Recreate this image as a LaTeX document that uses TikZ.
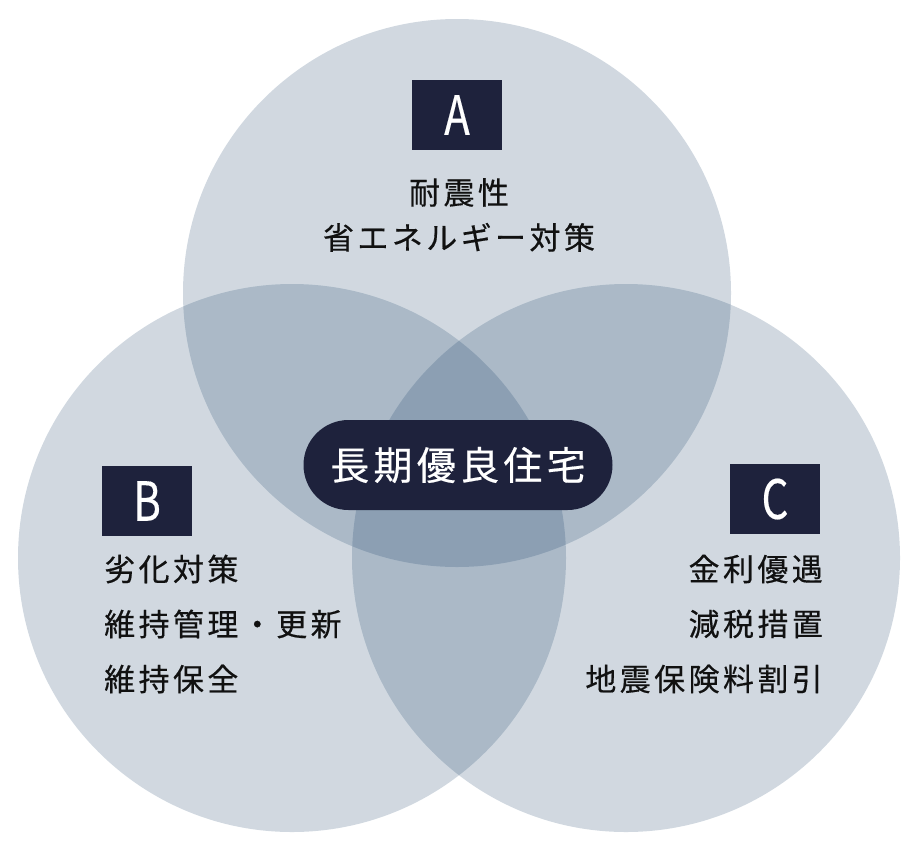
\documentclass[tikz,border=0pt]{standalone}
\usepackage{fontspec}
\usetikzlibrary{positioning}
\newfontfamily\jpwide[LetterSpace=11,FakeBold=0.4]{Noto Sans CJK JP}
\newfontfamily\letterfont[FakeStretch=0.78,FakeBold=0.3]{Noto Sans CJK JP}
\definecolor{vennblue}{RGB}{8,50,92}
\definecolor{navy}{RGB}{30,34,60}
\definecolor{ink}{RGB}{17,17,17}

\begin{document}
\begin{tikzpicture}[x=1pt,y=-1pt,
    venn/.style={circle, fill=vennblue, fill opacity=0.19, minimum size=548pt, inner sep=0pt},
    letterbox/.style={fill=navy, text=white, minimum width=90pt, minimum height=70pt, inner sep=0pt,
      font=\letterfont\fontsize{54}{54}\selectfont},
    item/.style={text=ink, inner sep=0pt, font=\jpwide\fontsize{31}{55}\selectfont},
    pill/.style={fill=navy, text=white, minimum width=309pt, minimum height=90pt, inner sep=0pt,
      rounded corners=45pt, font=\jpwide\fontsize{39}{39}\selectfont}]
    \useasboundingbox (0,0) rectangle (920,854);

    % three circles
    \node[venn] (circA) at (457,293) {};
    \node[venn] (circB) at (292,558) {};
    \node[venn] (circC) at (626,558) {};

    % A
    \node[letterbox] (boxA) at (457,115) {A};
    \node[item, align=center, font=\jpwide\fontsize{31}{45}\selectfont] (textA) at (459,215) {耐震性\\省エネルギー対策};

    % B
    \node[letterbox] (boxB) at (147,501) {B};
    \node[item, align=left, anchor=west] (textB) at (104,624) {劣化対策\\維持管理・更新\\維持保全};

    % C
    \node[letterbox] (boxC) at (775,499) {C};
    \node[item, align=right, anchor=east] (textC) at (823,624) {金利優遇\\減税措置\\地震保険料割引};

    % centre
    \node[pill] (core) at (458,465) {長期優良住宅};
  \end{tikzpicture}
\end{document}
